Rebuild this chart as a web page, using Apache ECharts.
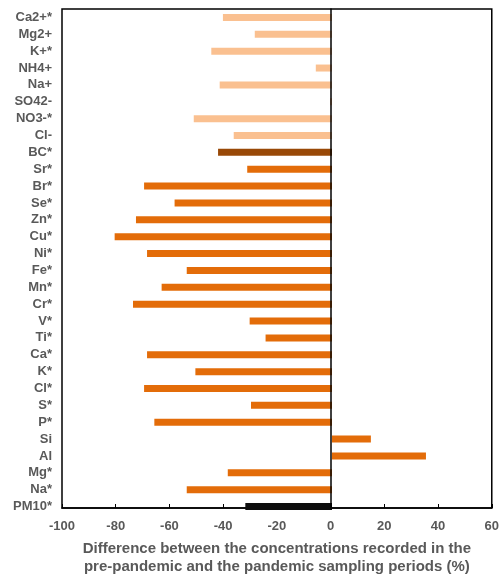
<!DOCTYPE html>
<html>
<head>
<meta charset="utf-8">
<script src="https://cdn.jsdelivr.net/npm/echarts@6/dist/echarts.min.js"></script>
<style>
  html, body { margin: 0; padding: 0; background: #fff; }
  #chart { width: 502px; height: 581px; }
</style>
</head>
<body>
<div id="chart"></div>
<script>
// categories, top to bottom
var species = ['Ca2+*', 'Mg2+', 'K+*', 'NH4+', 'Na+', 'SO42-', 'NO3-*', 'Cl-', 'BC*',
    'Sr*', 'Br*', 'Se*', 'Zn*', 'Cu*', 'Ni*', 'Fe*', 'Mn*', 'Cr*', 'V*', 'Ti*',
    'Ca*', 'K*', 'Cl*', 'S*', 'P*', 'Si', 'Al', 'Mg*', 'Na*', 'PM10*'];
// difference (%)
var diffValues = [-40.4, -28.6, -44.7, -6.0, -41.6, -0.7, -51.2, -36.4, -42.2,
    -31.4, -69.6, -58.3, -72.6, -80.5, -68.5, -53.8, -63.1, -73.7, -30.5, -24.6,
    -68.5, -50.6, -69.6, -30.0, -65.8, 14.4, 34.8, -38.6, -53.8, -32.1];
// group of each species
var groups = ['ion', 'ion', 'ion', 'ion', 'ion', 'ion', 'ion', 'ion', 'bc',
    'el', 'el', 'el', 'el', 'el', 'el', 'el', 'el', 'el', 'el', 'el',
    'el', 'el', 'el', 'el', 'el', 'el', 'el', 'el', 'el', 'pm'];
var xTicks = [-100, -80, -60, -40, -20, 0, 20, 40, 60];

var groupColor = {ion: '#FAC090', bc: '#984807', el: '#E36C09', pm: '#0d0d0d'};

var chart = echarts.init(document.getElementById('chart'));

var barData = diffValues.map(function (v, i) {
    return {value: v, itemStyle: {color: groupColor[groups[i]]}};
});

var labelStyle = {
    color: '#595959',
    fontFamily: 'Liberation Sans, Arial, sans-serif',
    fontWeight: 'bold',
    fontSize: 13
};

// grid 0: frame, x axis and zero line; grid 1: the bars (bands run a bit past the frame, like Excel)
chart.setOption({
    animation: false,
    grid: [
        {left: 62, right: 8, top: 9, bottom: 69, show: true, borderColor: '#000', borderWidth: 1.5},
        {left: 62, right: 8, top: 9, bottom: 66}
    ],
    xAxis: [{
        gridIndex: 0,
        type: 'value',
        min: xTicks[0],
        max: xTicks[xTicks.length - 1],
        interval: 20,
        axisLine: {show: true, onZero: false, lineStyle: {color: '#000', width: 1.5}},
        axisTick: {show: true, inside: true, length: 4, lineStyle: {color: '#000'}},
        splitLine: {show: false},
        axisLabel: Object.assign({margin: 12}, labelStyle),
        name: 'Difference between the concentrations recorded in the\npre-pandemic and the pandemic sampling periods (%)',
        nameLocation: 'middle',
        nameGap: 32,
        nameTextStyle: {
            color: '#595959',
            fontFamily: 'Liberation Sans, Arial, sans-serif',
            fontWeight: 'bold',
            fontSize: 15,
            lineHeight: 18,
            verticalAlign: 'top'
        }
    }, {
        gridIndex: 1,
        type: 'value',
        min: xTicks[0],
        max: xTicks[xTicks.length - 1],
        show: false
    }],
    yAxis: [{
        gridIndex: 0,
        type: 'value',
        min: 0,
        max: 1,
        z: 5,
        axisLine: {show: true, onZero: true, lineStyle: {color: '#000', width: 1.5}},
        axisTick: {show: false},
        axisLabel: {show: false},
        splitLine: {show: false}
    }, {
        gridIndex: 1,
        type: 'category',
        data: species,
        inverse: true,
        axisLine: {show: false},
        axisTick: {show: false},
        axisLabel: Object.assign({margin: 10, interval: 0}, labelStyle)
    }],
    series: [{
        type: 'bar',
        xAxisIndex: 1,
        yAxisIndex: 1,
        data: barData,
        barWidth: 7
    }]
});
</script>
</body>
</html>
